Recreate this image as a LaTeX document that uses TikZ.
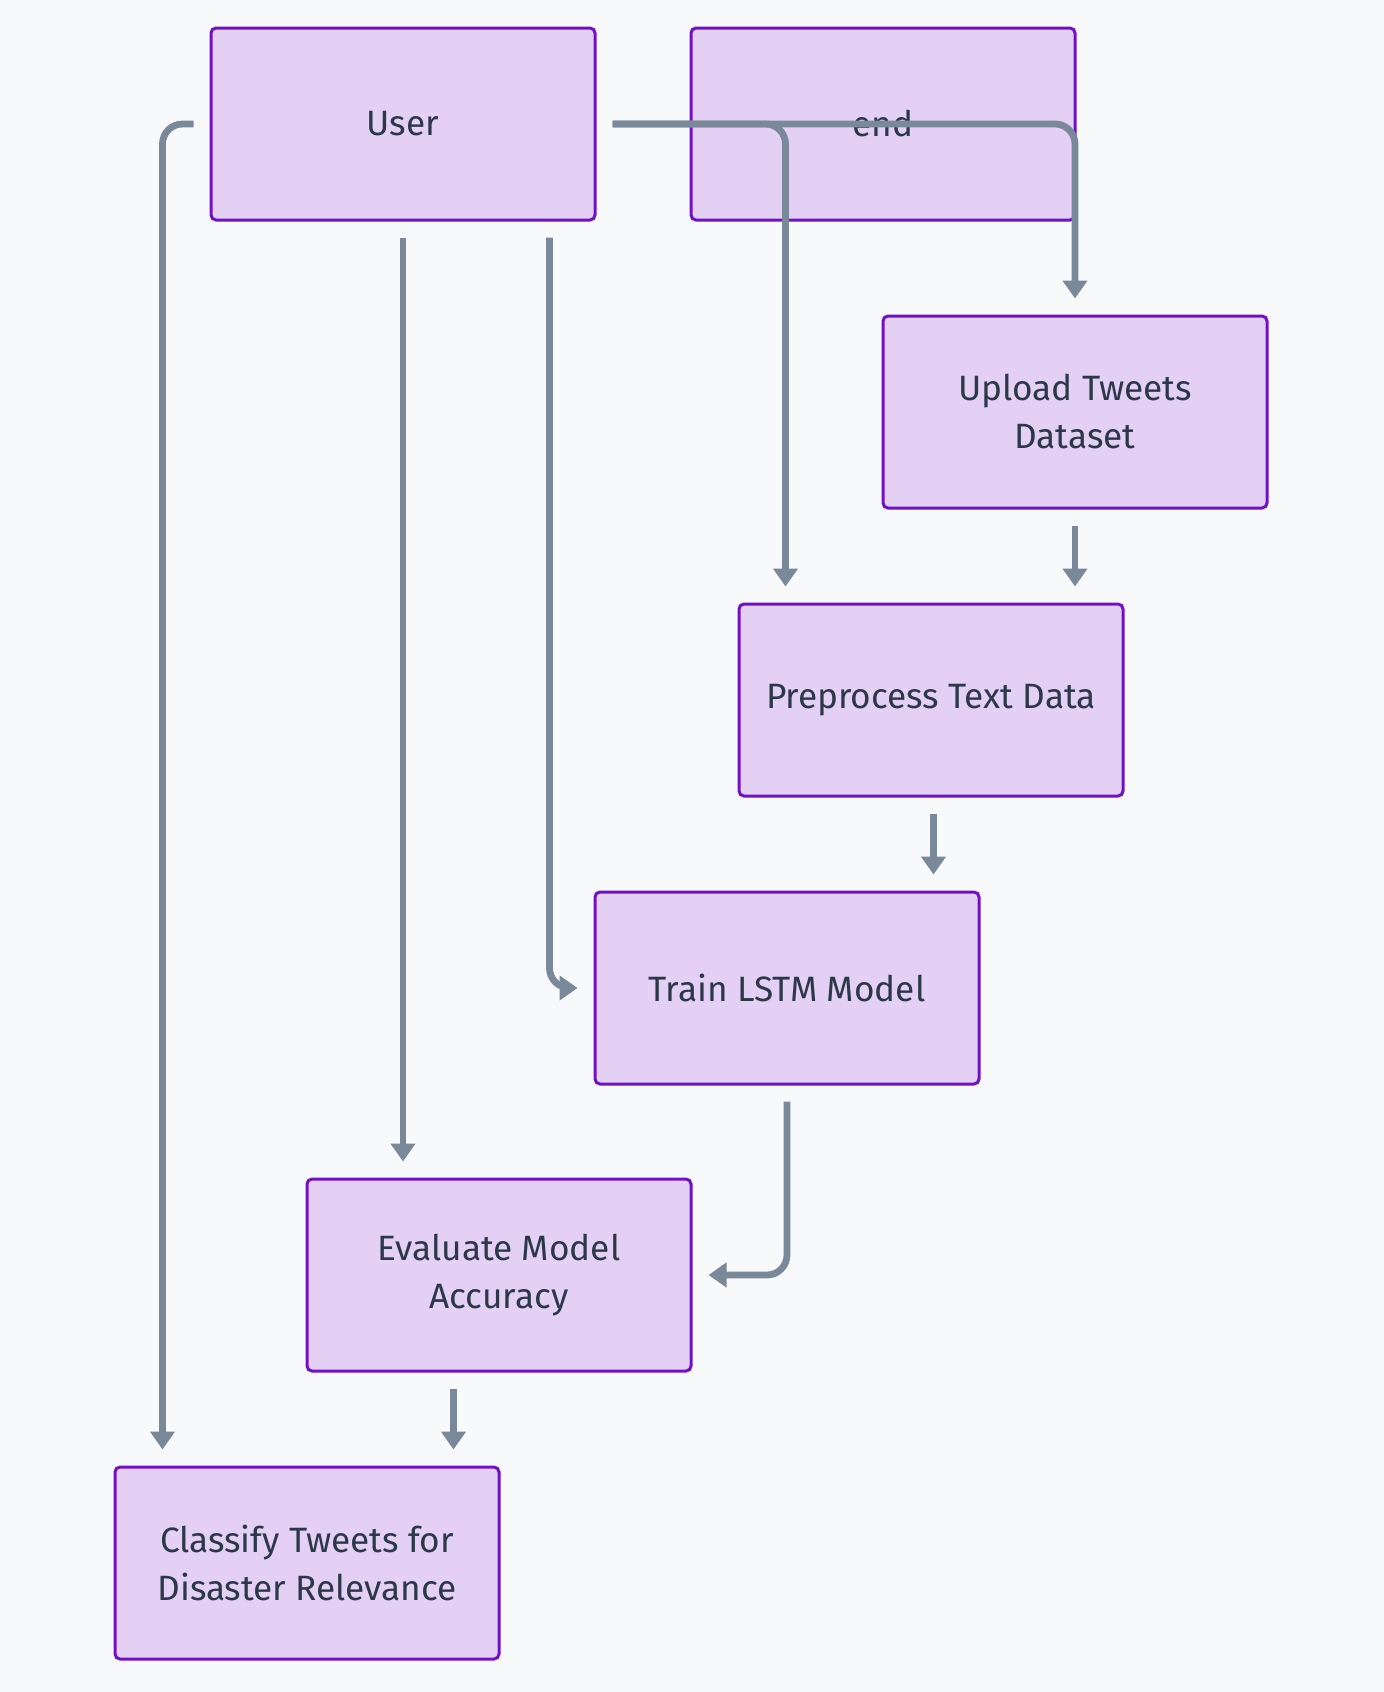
\documentclass[tikz,border=0pt]{standalone}
\usepackage{fontspec}
\setmainfont{Fira Sans}
\usetikzlibrary{arrows.meta,calc}

\definecolor{bgcol}{HTML}{F8F9FB}
\definecolor{boxfill}{HTML}{E4D0F4}
\definecolor{boxline}{HTML}{7211C4}
\definecolor{flowcol}{HTML}{7A8999}
\definecolor{txtcol}{HTML}{2B3848}

\tikzset{
  stepbox/.style={draw=boxline, fill=boxfill, line width=1.5pt, rounded corners=2.5pt,
    minimum width=192pt, minimum height=96pt, align=center, text=txtcol,
    font=\fontsize{17.6}{24}\selectfont},
  flow/.style={draw=flowcol, line width=3.4pt, rounded corners=10pt,
    -{Triangle[width=12pt,length=9pt]}, shorten <=8pt, shorten >=8pt}
}

\begin{document}
\begin{tikzpicture}[x=0.5pt,y=-0.5pt]
\fill[bgcol] (0,0) rectangle (1384,1692);
\useasboundingbox (0,0) rectangle (1384,1692);

\node[stepbox] (user) at (403,124) {User};
\node[stepbox] (end) at (883,124) {end};
\node[stepbox] (upload) at (1075,412) {Upload Tweets\\Dataset};
\node[stepbox] (prep) at (931,700) {Preprocess Text Data};
\node[stepbox] (train) at (787,988) {Train LSTM Model};
\node[stepbox] (eval) at (499,1275) {Evaluate Model\\Accuracy};
\node[stepbox] (classify) at (307,1563) {Classify Tweets for\\Disaster Relevance};

\coordinate (trainin) at ($(train.north east)+(-47,0)$);
\coordinate (classin) at ($(classify.north east)+(-47,0)$);

\draw[flow] (user.west) -| ($(classify.north west)+(49,0)$);
\draw[flow] (user.south) -- (user.south |- eval.north);
\draw[flow] ($(user.south east)+(-47,0)$) |- (train.west);
\draw[flow] (user.east) -| ($(prep.north west)+(48,0)$);
\draw[flow] (user.east) -| (upload.north);
\draw[flow] (upload.south) -- (upload.south |- prep.north);
\draw[flow] (trainin |- prep.south) -- (trainin);
\draw[flow] (train.south) |- (eval.east);
\draw[flow] (classin |- eval.south) -- (classin);
\end{tikzpicture}
\end{document}
